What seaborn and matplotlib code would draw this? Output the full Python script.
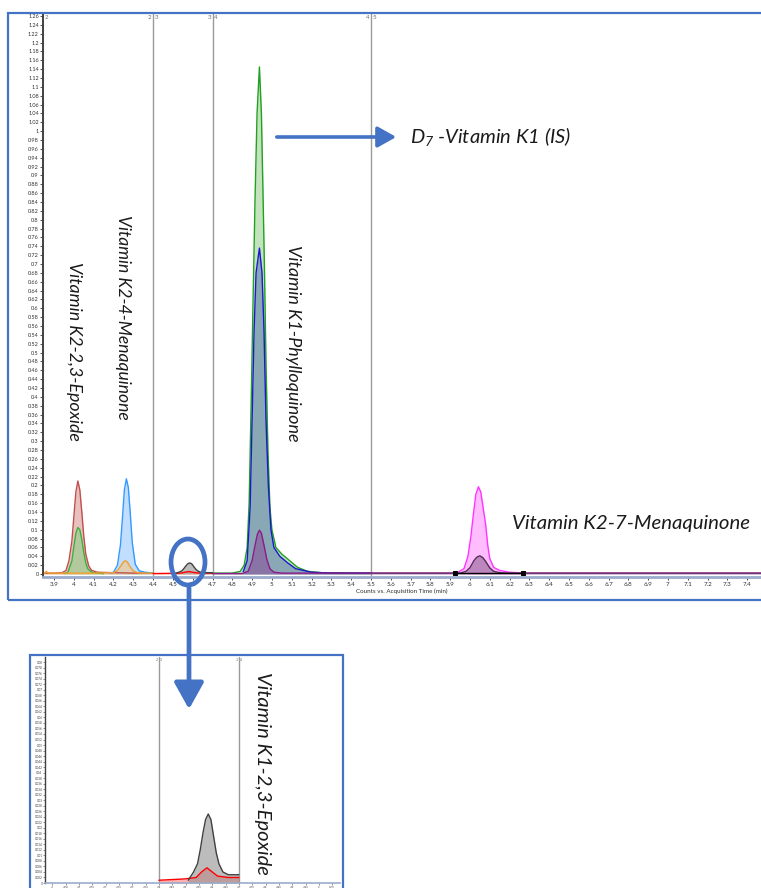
import numpy as np
import pandas as pd
import matplotlib
matplotlib.use("Agg")
import matplotlib.pyplot as plt
import seaborn as sns
from matplotlib.patches import Rectangle, Ellipse, FancyArrowPatch
from matplotlib.ticker import FuncFormatter

sns.set_theme(style="white")
plt.rcParams['font.family'] = ['Lato', 'DejaVu Sans']
plt.rcParams['mathtext.fontset'] = 'custom'
plt.rcParams['mathtext.it'] = 'Lato:italic'
plt.rcParams['mathtext.rm'] = 'Lato:italic'

W, H = 761, 888

# ---------------- data ----------------
# segment 2 (3.84 - 4.40)
ep_red_t = [3.845, 3.90, 3.94, 3.96, 3.975, 3.99, 4.00, 4.01, 4.02, 4.03, 4.04, 4.05, 4.06, 4.075, 4.09, 4.12, 4.20, 4.30, 4.40]
ep_red_y = [0.002, 0.002, 0.003, 0.008, 0.030, 0.075, 0.130, 0.185, 0.210, 0.190, 0.140, 0.085, 0.045, 0.018, 0.008, 0.004, 0.003, 0.002, 0.002]
ep_grn_t = [3.95, 3.97, 3.99, 4.00, 4.01, 4.02, 4.03, 4.04, 4.05, 4.06, 4.07, 4.09, 4.12, 4.15]
ep_grn_y = [0.001, 0.004, 0.030, 0.062, 0.092, 0.105, 0.100, 0.078, 0.048, 0.025, 0.012, 0.004, 0.002, 0.001]
mk4_org_t = [3.845, 3.855, 3.86, 3.87, 3.90, 4.00, 4.10, 4.20, 4.22, 4.24, 4.25, 4.26, 4.27, 4.28, 4.30, 4.32, 4.35, 4.40]
mk4_org_y = [0.002, 0.002, 0.006, 0.002, 0.002, 0.002, 0.002, 0.003, 0.008, 0.020, 0.027, 0.030, 0.027, 0.019, 0.007, 0.003, 0.002, 0.002]
mk4_blu_t = [4.18, 4.20, 4.22, 4.235, 4.245, 4.255, 4.265, 4.275, 4.285, 4.295, 4.31, 4.33, 4.36, 4.40]
mk4_blu_y = [0.002, 0.004, 0.020, 0.065, 0.125, 0.190, 0.215, 0.195, 0.135, 0.070, 0.022, 0.007, 0.004, 0.002]
# segment 3 (4.40 - 4.70)
k1ep_red_t = [4.40, 4.50, 4.54, 4.56, 4.58, 4.60, 4.62, 4.66, 4.70]
k1ep_red_y = [0.001, 0.0015, 0.002, 0.004, 0.0055, 0.004, 0.0025, 0.002, 0.002]
k1ep_gry_t = [4.51, 4.53, 4.545, 4.555, 4.565, 4.575, 4.585, 4.595, 4.605, 4.615, 4.625, 4.64, 4.66, 4.70]
k1ep_gry_y = [0.001, 0.004, 0.007, 0.012, 0.018, 0.023, 0.025, 0.023, 0.017, 0.011, 0.007, 0.004, 0.003, 0.003]
# segment 4 (4.70 - 5.50)
k1_grn_t = [4.70, 4.80, 4.84, 4.86, 4.875, 4.885, 4.895, 4.905, 4.915, 4.925, 4.937, 4.947, 4.955, 4.962, 4.97, 4.98, 4.99, 5.00, 5.02, 5.05, 5.09, 5.13, 5.18, 5.25, 5.50]
k1_grn_y = [0.002, 0.002, 0.006, 0.020, 0.060, 0.160, 0.380, 0.620, 0.850, 1.040, 1.145, 1.040, 0.860, 0.700, 0.480, 0.280, 0.150, 0.100, 0.060, 0.045, 0.030, 0.015, 0.006, 0.003, 0.002]
k1_blu_t = [4.855, 4.875, 4.89, 4.90, 4.91, 4.92, 4.937, 4.95, 4.96, 4.97, 4.982, 4.995, 5.01, 5.04, 5.08, 5.12, 5.20, 5.30, 5.50]
k1_blu_y = [0.005, 0.030, 0.150, 0.350, 0.550, 0.680, 0.736, 0.680, 0.550, 0.350, 0.200, 0.100, 0.060, 0.040, 0.025, 0.012, 0.004, 0.002, 0.002]
k1_pur_t = [4.70, 4.85, 4.88, 4.90, 4.915, 4.927, 4.937, 4.947, 4.96, 4.975, 4.99, 5.01, 5.05, 5.50]
k1_pur_y = [0.001, 0.001, 0.006, 0.030, 0.065, 0.090, 0.099, 0.092, 0.065, 0.032, 0.012, 0.004, 0.002, 0.002]
# segment 5 (5.50 - 7.47)
mk7_mag_t = [5.50, 5.90, 5.94, 5.97, 5.99, 6.005, 6.015, 6.03, 6.043, 6.055, 6.07, 6.08, 6.09, 6.10, 6.12, 6.15, 6.20, 6.28, 7.47]
mk7_mag_y = [0.002, 0.002, 0.004, 0.012, 0.040, 0.085, 0.125, 0.180, 0.197, 0.185, 0.140, 0.110, 0.065, 0.035, 0.015, 0.008, 0.004, 0.002, 0.002]
mk7_drk_t = [5.50, 5.95, 5.98, 6.00, 6.02, 6.035, 6.05, 6.065, 6.08, 6.10, 6.12, 6.15, 6.20, 7.47]
mk7_drk_y = [0.002, 0.002, 0.006, 0.014, 0.030, 0.038, 0.041, 0.037, 0.028, 0.014, 0.006, 0.003, 0.002, 0.002]
integ_t = [5.925, 6.27]
integ_y = [0.002, 0.002]

segment_bounds = [4.40, 4.70, 5.50]
segment_labels = [("2", "3"), ("3", "4"), ("4", "5")]
labels_main = ["Vitamin K2-2,3-Epoxide", "Vitamin K2-4-Menaquinone",
               "Vitamin K1-Phylloquinone", "Vitamin K2-7-Menaquinone"]
label_is = "-Vitamin K1 (IS)"
label_inset = "Vitamin K1-2,3-Epoxide"
xlabel = "Counts vs. Acquisition Time (min)"

# ---------------- figure ----------------
fig = plt.figure(figsize=(W / 100, H / 100), dpi=100)
fig.patch.set_facecolor("white")

def fx(x):
    return x / W

def fy(y):
    return 1 - y / H

def fmt(v, pos=None):
    s = f"{v:.2f}".rstrip("0").rstrip(".")
    return s

ax = fig.add_axes([fx(43), fy(577), fx(761) - fx(43), fy(14) - fy(577)])
ax.set_xlim(3.844, 7.47)
ax.set_ylim(-3 / 443, 1.26 + 2 / 443)

traces = [
    (ep_red_t, ep_red_y, "#c0504d", "#d99694", 0.6),
    (ep_grn_t, ep_grn_y, "#3cb03c", "#8fd08a", 0.6),
    (mk4_blu_t, mk4_blu_y, "#3399ff", "#a8d0ff", 0.7),
    (mk4_org_t, mk4_org_y, "#f0a030", "#f5c77e", 0.6),
    (k1ep_red_t, k1ep_red_y, "#ff0000", "#ff6060", 0.5),
    (k1ep_gry_t, k1ep_gry_y, "#404040", "#909090", 0.6),
    (k1_grn_t, k1_grn_y, "#22a022", "#a8d8a0", 0.7),
    (k1_blu_t, k1_blu_y, "#1a1acc", "#5a78b0", 0.55),
    (k1_pur_t, k1_pur_y, "#8b1a8b", "#8a4a9a", 0.55),
    (mk7_mag_t, mk7_mag_y, "#ff33ff", "#ff99ff", 0.65),
    (mk7_drk_t, mk7_drk_y, "#503050", "#8a5a8a", 0.55),
]

for t, y, lc, fc, a in traces:
    ax.fill_between(t, 0, y, color=fc, alpha=a, lw=0)
    sns.lineplot(x=t, y=y, ax=ax, color=lc, lw=1.0, sort=False, legend=False)

sns.lineplot(x=integ_t, y=integ_y, ax=ax, color="black", lw=1.0, marker="s",
             markersize=3, markeredgecolor="black", legend=False)

for b, (l, r) in zip(segment_bounds, segment_labels):
    ax.axvline(b, color="#9a9a9a", lw=1.0, zorder=0.5)
    ax.text(b - 0.008, 1.262, l, ha="right", va="top", fontsize=4.5, color="#707070")
    ax.text(b + 0.008, 1.262, r, ha="left", va="top", fontsize=4.5, color="#707070")
ax.text(3.852, 1.262, "2", ha="left", va="top", fontsize=4.5, color="#707070")

ax.set_yticks(np.round(np.arange(0, 1.2601, 0.02), 2))
ax.yaxis.set_major_formatter(FuncFormatter(fmt))
ax.set_xticks(np.round(np.arange(3.9, 7.41, 0.1), 1))
ax.xaxis.set_major_formatter(FuncFormatter(fmt))
ax.tick_params(axis="y", labelsize=4, length=2, width=0.6, pad=1, colors="#303030", left=True)
ax.tick_params(axis="x", labelsize=4.5, length=2, width=0.6, pad=1.5, colors="#303030", bottom=True)
ax.set_xlabel(xlabel, fontsize=4.5, labelpad=1.5, color="#303030")
ax.set_ylabel("")
for s in ["top", "right"]:
    ax.spines[s].set_visible(False)
ax.spines["left"].set_color("#404040")
ax.spines["left"].set_linewidth(1.4)
ax.spines["bottom"].set_color("#9aaccc")
ax.spines["bottom"].set_linewidth(2.0)
ax.grid(False)

# ---------------- inset ----------------
ai = fig.add_axes([fx(45), fy(883), fx(340) - fx(45), fy(657) - fy(883)])
ai.set_xlim(3.973, 5.079)
ai.set_ylim(0, 0.0819)
for t, y, lc, fc, a in [traces[4], traces[5]]:
    ai.fill_between(t, 0, y, color=fc, alpha=a, lw=0)
    sns.lineplot(x=t, y=y, ax=ai, color=lc, lw=1.0, sort=False, legend=False)
for b, (l, r) in zip(segment_bounds[:2], segment_labels[:2]):
    ai.axvline(b, color="#9a9a9a", lw=1.0, zorder=0.5)
    ai.text(b - 0.004, 0.0815, l, ha="right", va="top", fontsize=2.5, color="#707070")
    ai.text(b + 0.004, 0.0815, r, ha="left", va="top", fontsize=2.5, color="#707070")
ai.set_yticks(np.round(np.arange(0, 0.0811, 0.002), 3))
ai.yaxis.set_major_formatter(FuncFormatter(lambda v, p: f"{v:.3f}".rstrip("0").rstrip(".")))
ai.set_xticks(np.round(np.arange(4.0, 5.06, 0.05), 2))
ai.xaxis.set_major_formatter(FuncFormatter(fmt))
ai.tick_params(axis="both", labelsize=2.2, length=1.2, width=0.4, pad=0.6, colors="#404040",
               left=True, bottom=True)
for s in ["top", "right"]:
    ai.spines[s].set_visible(False)
ai.spines["left"].set_color("#404040")
ai.spines["left"].set_linewidth(1.0)
ai.spines["bottom"].set_color("#9aaccc")
ai.spines["bottom"].set_linewidth(1.2)
ai.grid(False)

# ---------------- frames, annotations ----------------
blue = "#4472c4"
fig.add_artist(Rectangle((fx(8), fy(600)), fx(790) - fx(8), fy(13) - fy(600),
                         transform=fig.transFigure, fill=False, ec=blue, lw=1.6, zorder=10))
fig.add_artist(Rectangle((fx(30), fy(895)), fx(343) - fx(30), fy(655) - fy(895),
                         transform=fig.transFigure, fill=False, ec=blue, lw=1.6, zorder=10))

fig.add_artist(Ellipse((fx(188), fy(562)), fx(34), 46 / H, transform=fig.transFigure,
                       fill=False, ec=blue, lw=3.4, zorder=12))

fig.add_artist(FancyArrowPatch((fx(274), fy(137)), (fx(399), fy(137)), transform=fig.transFigure,
                               arrowstyle="-|>,head_length=0.8,head_width=0.45", mutation_scale=14,
                               color=blue, lw=2.6, zorder=12))
fig.add_artist(FancyArrowPatch((fx(189), fy(585)), (fx(189), fy(712)), transform=fig.transFigure,
                               arrowstyle="-|>,head_length=0.9,head_width=0.5", mutation_scale=18,
                               color=blue, lw=3.4, zorder=12))

tk = dict(fontstyle="italic", color="#1a1a1a", zorder=13)
fig.text(fx(74), fy(351), labels_main[0], rotation=-90, ha="center", va="center", fontsize=12.8, **tk)
fig.text(fx(123), fy(317), labels_main[1], rotation=-90, ha="center", va="center", fontsize=12.6, **tk)
fig.text(fx(293), fy(343), labels_main[2], rotation=-90, ha="center", va="center", fontsize=13, **tk)
fig.text(fx(512), fy(523), labels_main[3], ha="left", va="center", fontsize=14.7, **tk)
fig.text(fx(410), fy(137), r"$D_{\mathit{7}}$ " + label_is, ha="left", va="center", fontsize=14.5, **tk)
fig.text(fx(262), fy(773), label_inset, rotation=-90, ha="center", va="center",
         fontsize=14.5, **tk)

fig.savefig("out.png", dpi=100, facecolor="white")
